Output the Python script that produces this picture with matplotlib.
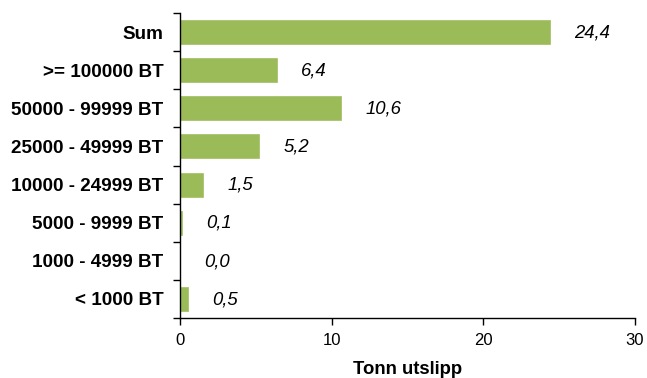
import matplotlib
matplotlib.use("Agg")
import matplotlib.pyplot as plt

categories = ["Sum", ">= 100000 BT", "50000 - 99999 BT", "25000 - 49999 BT",
              "10000 - 24999 BT", "5000 - 9999 BT", "1000 - 4999 BT", "< 1000 BT"]
values = [24.4, 6.4, 10.6, 5.2, 1.5, 0.1, 0.0, 0.5]
xticks = [0, 10, 20, 30]
xlabel = "Tonn utslipp"

plt.rcParams['font.family'] = ['Liberation Sans', 'DejaVu Sans']

fig = plt.figure(figsize=(6.47, 3.78), dpi=100)
ax = fig.add_axes([180/647, 1-318/378, (635-180)/647, (318-13)/378])

n = len(categories)
ypos = [n - 1 - i for i in range(n)]
ax.barh(ypos, values, height=0.63, color="#9BBB59", edgecolor="#A9C46E", linewidth=0.6)

for y, v in zip(ypos, values):
    ax.annotate(f"{v:.1f}".replace(".", ","), xy=(v, y), xytext=(17.5, -0.5),
                textcoords="offset points", ha="left", va="center",
                fontsize=13.3, style="italic", color="black")

ax.set_xlim(0, 30)
ax.set_ylim(-0.5, n - 0.5)
ax.set_xticks(xticks)
ax.set_xticklabels([str(t) for t in xticks], fontsize=12)
ax.tick_params(axis="x", direction="out", length=5, width=1, pad=6)

ax.set_yticks([i - 0.5 for i in range(n + 1)])
ax.set_yticklabels([])
ax.tick_params(axis="y", which="major", direction="out", length=5, width=1)
ax.set_yticks(ypos, minor=True)
ax.set_yticklabels(categories, minor=True, fontsize=13.6, fontweight="bold")
ax.tick_params(axis="y", which="minor", length=0, pad=12)

for s in ["top", "right"]:
    ax.spines[s].set_visible(False)
for s in ["left", "bottom"]:
    ax.spines[s].set_linewidth(1)
    ax.spines[s].set_color("black")

ax.set_xlabel(xlabel, fontsize=13.3, fontweight="bold", labelpad=9)

fig.savefig("out.png", dpi=100)
